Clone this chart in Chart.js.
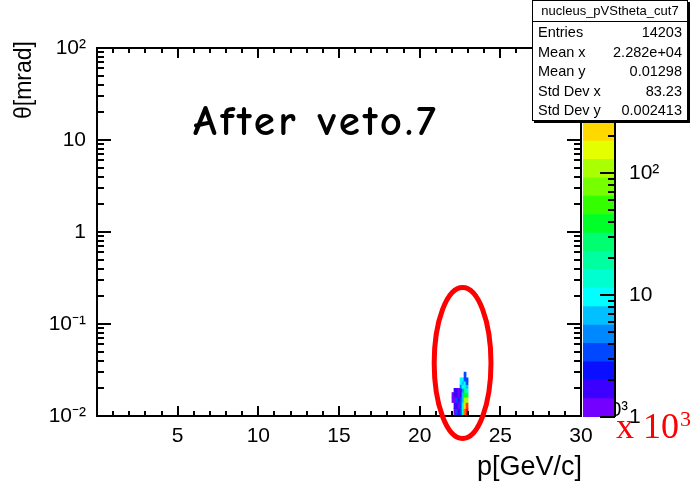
<!DOCTYPE html>
<html>
<head>
<meta charset="utf-8">
<script src="https://cdn.jsdelivr.net/npm/chart.js@4.4.1/dist/chart.umd.min.js"></script>
<style>
  html, body { margin: 0; padding: 0; background: #fff; }
  #wrap { position: relative; width: 691px; height: 491px; overflow: hidden; }
  #main { position: absolute; left: 0; top: 0; }
  #palette { position: absolute; left: 583px; top: 0; }
  #cut-label {
    position: absolute; left: 193px; top: 96px;
    font-family: "Comic Sans MS", "Comic Neue", "DejaVu Sans", sans-serif;
    font-size: 43px; font-weight: bold; letter-spacing: 3.4px; color: #000; white-space: nowrap;
  }
  #scale-note {
    position: absolute; left: 616px; top: 405px;
    font-family: "Liberation Serif", "Times New Roman", serif;
    font-size: 36px; color: #f00; white-space: nowrap;
  }
  #scale-note sup { font-size: 22px; vertical-align: 12px; margin-left: 1px; }
  #stats {
    position: absolute; left: 532px; top: 0; width: 154px; height: 119px;
    border: 1.5px solid #000; box-shadow: 2px 2px 0 #000; background: #fff;
    font-family: "Liberation Sans", Arial, sans-serif; color: #000;
  }
  #stats .title {
    height: 20px; line-height: 20px; text-align: center; font-size: 13px;
    border-bottom: 1.5px solid #000;
  }
  #stats .row {
    display: flex; justify-content: space-between;
    height: 19.6px; line-height: 21px; font-size: 14.5px; padding: 0 5px 0 5px;
  }
</style>
</head>
<body>
<div id="wrap">
  <canvas id="main" width="691" height="491"></canvas>
  <canvas id="palette" width="108" height="491"></canvas>
  <div id="cut-label">After veto.7</div>
  <div id="scale-note">x 10<sup>3</sup></div>
  <div id="stats">
    <div class="title">nucleus_pVStheta_cut7</div>
    <div class="row"><span>Entries</span><span>14203</span></div>
    <div class="row"><span>Mean x</span><span>2.282e+04</span></div>
    <div class="row"><span>Mean y</span><span>0.01298</span></div>
    <div class="row"><span>Std Dev x</span><span>83.23</span></div>
    <div class="row"><span>Std Dev y</span><span>0.002413</span></div>
  </div>
</div>
<script>
'use strict';

// ── Histogram binning ──────────────────────────────────────────────────
// p bins in GeV/c (axis is x 10^3), bin centres, 0.125 wide
const pCentres   = [22.0625, 22.1875, 22.3125, 22.4375, 22.5625, 22.6875, 22.8125, 22.9375];
const pBinWidth  = 0.125;
// theta bins in mrad, lower edges, 0.002 wide
const thetaLow   = [0.010, 0.012, 0.014, 0.016, 0.018, 0.020, 0.022, 0.024, 0.026, 0.028];
const thetaWidth = 0.002;

// entries per cell: one row per p bin, theta from bottom to top
const counts = [
  [0,    0,   1,   1,  0,  0,  0,  0, 0, 0],
  [1,    2,   1,   2,  2,  0,  0,  0, 0, 0],
  [3,    2,   3,   2,  2,  0,  0,  0, 0, 0],
  [2,    1,   2,   1,  1,  0,  0,  0, 0, 0],
  [4,    3,   3,   2,  2,  5,  9, 10, 0, 0],
  [15,  12,   8,   6,  5, 10,  8,  9, 0, 0],
  [400, 200, 120, 40, 30, 12, 10,  4, 4, 3],
  [1000, 600, 120, 40, 15, 8,  4,  3, 0, 0],
];

// ── Axes ───────────────────────────────────────────────────────────────
const xTicks      = [5, 10, 15, 20, 25, 30];
const yTicks      = [0.01, 0.1, 1, 10, 100];
const yTickLabels = ['10\u207B\u00B2', '10\u207B\u00B9', '1', '10', '10\u00B2'];
const zTicks      = [1, 10, 100, 1000];
const zTickLabels = ['1', '10', '10\u00B2', '10\u00B3'];

// ── Colour palette (20 contours, log z) ───────────────────────────────
const zMax = 1040;
const paletteColours = [
  '#7400ff', '#3c00ff', '#0a10ff', '#0048ff', '#0088ff',
  '#00c0ff', '#00ffff', '#00ffd0', '#00ffa0', '#00ff70',
  '#00ff28', '#34ff00', '#76ff00', '#aaff00', '#e4ff00',
  '#ffd800', '#ffa000', '#ff7000', '#ff3800', '#ff0000',
];
const levels = paletteColours.map((_, i) => Math.pow(zMax, i / paletteColours.length));
levels.push(zMax);

function colourFor(n) {
  let k = 0;
  while (k < paletteColours.length - 1 && n >= levels[k + 1]) k++;
  return paletteColours[k];
}

const FONT = "'Liberation Sans', Arial, Helvetica, sans-serif";
Chart.defaults.font.family = FONT;
Chart.defaults.color = '#000';

// cells of the 2D histogram as floating bars
const cells = [];
pCentres.forEach((p, i) => {
  thetaLow.forEach((t, j) => {
    const n = counts[i][j];
    if (n > 0) cells.push({ x: p, y: [t, t + thetaWidth], n });
  });
});

// ── Frame, inward ticks, titles ───────────────────────────────────────
const rootFrame = {
  id: 'rootFrame',
  afterDatasetsDraw(chart) {
    const { ctx, chartArea: a, scales: { x, y } } = chart;
    ctx.save();
    ctx.strokeStyle = '#000';
    ctx.lineWidth = 2;
    ctx.strokeRect(a.left, a.top, a.right - a.left, a.bottom - a.top);

    ctx.beginPath();
    for (let v = 0; v <= 30; v++) {
      const px = Math.round(x.getPixelForValue(v));
      const len = v % 5 === 0 ? 10 : 5;
      ctx.moveTo(px, a.bottom); ctx.lineTo(px, a.bottom - len);
      ctx.moveTo(px, a.top);    ctx.lineTo(px, a.top + len);
    }
    for (let d = -2; d <= 2; d++) {
      for (let m = 1; m < 10; m++) {
        const v = m * Math.pow(10, d);
        if (v > 100.0001) break;
        const py = Math.round(y.getPixelForValue(v));
        const len = m === 1 ? 14 : 7;
        ctx.moveTo(a.left, py);  ctx.lineTo(a.left + len, py);
        ctx.moveTo(a.right, py); ctx.lineTo(a.right - len, py);
      }
    }
    ctx.stroke();

    // axis titles
    ctx.fillStyle = '#000';
    ctx.font = `27px ${FONT}`;
    ctx.textAlign = 'right';
    ctx.textBaseline = 'alphabetic';
    ctx.fillText('p[GeV/c]', a.right + 1, 475);

    ctx.save();
    ctx.translate(25, 41);
    ctx.rotate(-Math.PI / 2);
    ctx.font = `23px ${FONT}`;
    ctx.textAlign = 'right';
    ctx.textBaseline = 'middle';
    ctx.fillText('\u03B8[mrad]', 0, 0);
    ctx.restore();

    // axis exponent, mostly under the palette
    ctx.font = `20px ${FONT}`;
    ctx.textAlign = 'right';
    ctx.fillText('\u00D710\u00B3', 628, a.bottom);
    ctx.restore();
  },
  afterDraw(chart) {
    // hand-drawn ring around the cluster
    const { ctx, scales: { x, y } } = chart;
    const l = x.getPixelForValue(20.9), r = x.getPixelForValue(24.42);
    const t = y.getPixelForValue(0.249), b = y.getPixelForValue(0.00569);
    ctx.save();
    ctx.strokeStyle = '#ff0000';
    ctx.lineWidth = 5;
    ctx.beginPath();
    ctx.ellipse((l + r) / 2, (t + b) / 2, (r - l) / 2, (b - t) / 2, 0, 0, Math.PI * 2);
    ctx.stroke();
    ctx.restore();
  },
};

new Chart(document.getElementById('main'), {
  type: 'bar',
  data: {
    datasets: [{
      data: cells,
      backgroundColor: c => colourFor(c.raw ? c.raw.n : 1),
      borderWidth: 0,
      barPercentage: 1,
      categoryPercentage: 1,
    }],
  },
  options: {
    responsive: false,
    animation: false,
    layout: { padding: { top: 48, right: 110, bottom: 0, left: 0 } },
    plugins: { legend: { display: false }, tooltip: { enabled: false } },
    scales: {
      x: {
        type: 'linear', min: 0, max: 30, offset: false,
        grid: { display: false, drawTicks: false, offset: false }, border: { display: false },
        afterBuildTicks: s => { s.ticks = xTicks.map(v => ({ value: v })); },
        ticks: { font: { size: 21 }, padding: 8, maxRotation: 0, callback: v => String(v) },
        afterFit: s => { s.height = 75; },
      },
      y: {
        type: 'logarithmic', min: 0.01, max: 100,
        grid: { display: false, drawTicks: false }, border: { display: false },
        afterBuildTicks: s => { s.ticks = yTicks.map(v => ({ value: v })); },
        ticks: { font: { size: 21 }, padding: 11, callback: v => yTickLabels[yTicks.indexOf(v)] },
        afterFit: s => { s.width = 97; },
      },
    },
  },
  plugins: [rootFrame],
});

// ── Palette axis ───────────────────────────────────────────────────────
const paletteAxis = {
  id: 'paletteAxis',
  afterDatasetsDraw(chart) {
    const { ctx, chartArea: a, scales: { y } } = chart;
    ctx.save();
    ctx.strokeStyle = '#000';
    ctx.lineWidth = 2;
    ctx.beginPath();
    ctx.moveTo(a.right, a.top); ctx.lineTo(a.right, a.bottom);
    for (let d = 0; d <= 3; d++) {
      for (let m = 1; m < 10; m++) {
        const v = m * Math.pow(10, d);
        if (v > zMax) break;
        const py = Math.round(y.getPixelForValue(v));
        const len = m === 1 ? 15 : 7;
        ctx.moveTo(a.right, py); ctx.lineTo(a.right - len, py);
      }
    }
    ctx.stroke();
    ctx.restore();
  },
};

new Chart(document.getElementById('palette'), {
  type: 'bar',
  data: {
    labels: [''],
    datasets: paletteColours.map((c, i) => ({
      data: [[levels[i], levels[i + 1]]],
      backgroundColor: c,
      borderWidth: 0,
      grouped: false,
      barPercentage: 1,
      categoryPercentage: 1,
    })),
  },
  options: {
    responsive: false,
    animation: false,
    layout: { padding: { top: 49, right: 0, bottom: 74, left: 0 } },
    plugins: { legend: { display: false }, tooltip: { enabled: false } },
    scales: {
      x: { display: false },
      y: {
        type: 'logarithmic', position: 'right', min: 1, max: zMax,
        grid: { display: false, drawTicks: false }, border: { display: false },
        afterBuildTicks: s => { s.ticks = zTicks.map(v => ({ value: v })); },
        ticks: { font: { size: 21 }, padding: 14, callback: v => zTickLabels[zTicks.indexOf(v)] },
        afterFit: s => { s.width = 76; },
      },
    },
  },
  plugins: [paletteAxis],
});
</script>
</body>
</html>
